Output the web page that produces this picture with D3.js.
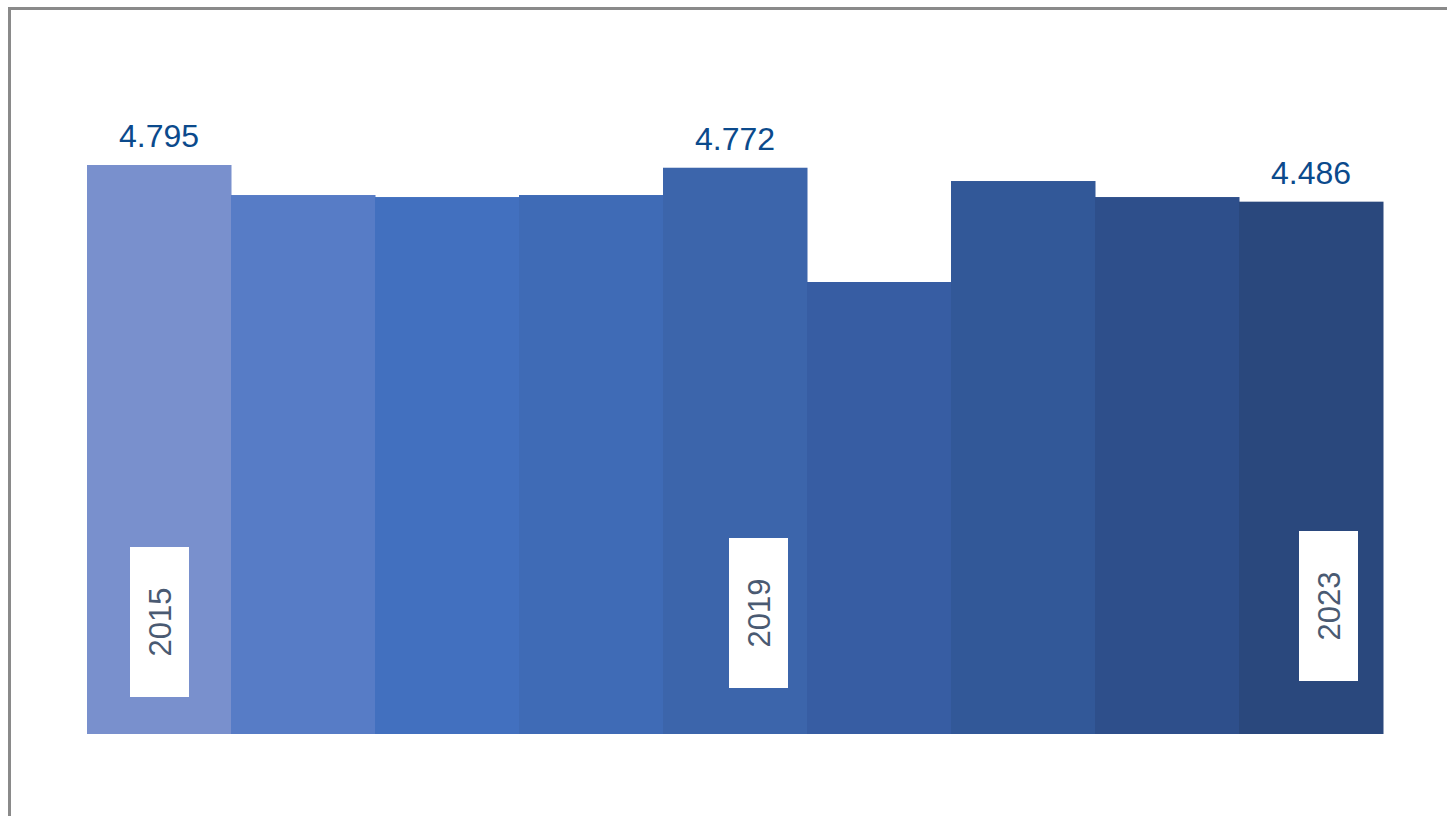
<!DOCTYPE html>
<html>
<head>
<meta charset="utf-8">
<script src="https://cdn.jsdelivr.net/npm/d3@7"></script>
<style>
  body { margin: 0; background: #fff; overflow: hidden; }
  svg { display: block; font-family: "Liberation Sans", Arial, sans-serif; }
</style>
</head>
<body>
<div id="chart"></div>
<script>
// data
var years = ["2015", "2016", "2017", "2018", "2019", "2020", "2021", "2022", "2023"];
var values = [4.795, 4.542, 4.525, 4.542, 4.772, 3.809, 4.660, 4.525, 4.486];
var colors = ["#7990cd", "#577cc6", "#4270bf", "#3f6bb6", "#3c65ab", "#375da3", "#325898", "#2e4f8b", "#2a487d"];
var shownValues = ["2015", "2019", "2023"];
var shownYears = ["2015", "2019", "2023"];
// label box nudges (px), as placed in the original
var yearShiftX = [0, 23, 17];
var yearShiftY = [0, -9, -16];

var width = 1447, height = 816;

var svg = d3.select("#chart").append("svg")
    .attr("width", width)
    .attr("height", height);

// frame (runs off the right and bottom edge)
svg.append("rect")
    .attr("x", 9.5).attr("y", 8.5)
    .attr("width", width + 20).attr("height", height + 20)
    .attr("fill", "none")
    .attr("stroke", "#8a8a8a")
    .attr("stroke-width", 3);

var x = d3.scaleBand()
    .domain(years)
    .range([87, 1383])
    .padding(0);

var y = d3.scaleLinear()
    .domain([0, 4.795])
    .range([734, 165]);

svg.selectAll("rect.bar")
    .data(years)
    .enter().append("rect")
    .attr("class", "bar")
    .attr("x", d => x(d))
    .attr("width", x.bandwidth() + 0.5)
    .attr("y", (d, i) => y(values[i]))
    .attr("height", (d, i) => y(0) - y(values[i]))
    .attr("fill", (d, i) => colors[i]);

// value labels
svg.selectAll("text.val")
    .data(years.filter(d => shownValues.includes(d)))
    .enter().append("text")
    .attr("class", "val")
    .attr("x", d => x(d) + x.bandwidth() / 2)
    .attr("y", d => y(values[years.indexOf(d)]) - 18)
    .attr("text-anchor", "middle")
    .attr("fill", "#0b4a8c")
    .style("font-size", "32px")
    .text(d => d3.format(".3f")(values[years.indexOf(d)]));

// year labels in white boxes
var lab = svg.selectAll("g.yr")
    .data(shownYears)
    .enter().append("g")
    .attr("class", "yr")
    .attr("transform", (d, k) => {
      var cx = x(d) + x.bandwidth() / 2 + 0.5 + yearShiftX[k];
      var cy = 622 + yearShiftY[k];
      return `translate(${cx},${cy})`;
    });

lab.append("rect")
    .attr("x", -29.5).attr("y", -75)
    .attr("width", 59).attr("height", 150)
    .attr("fill", "#fff");

lab.append("text")
    .attr("transform", "rotate(-90)")
    .attr("text-anchor", "middle")
    .attr("dy", "0.36em")
    .attr("fill", "#4a5a72")
    .style("font-size", "31px")
    .text(d => d);
</script>
</body>
</html>
